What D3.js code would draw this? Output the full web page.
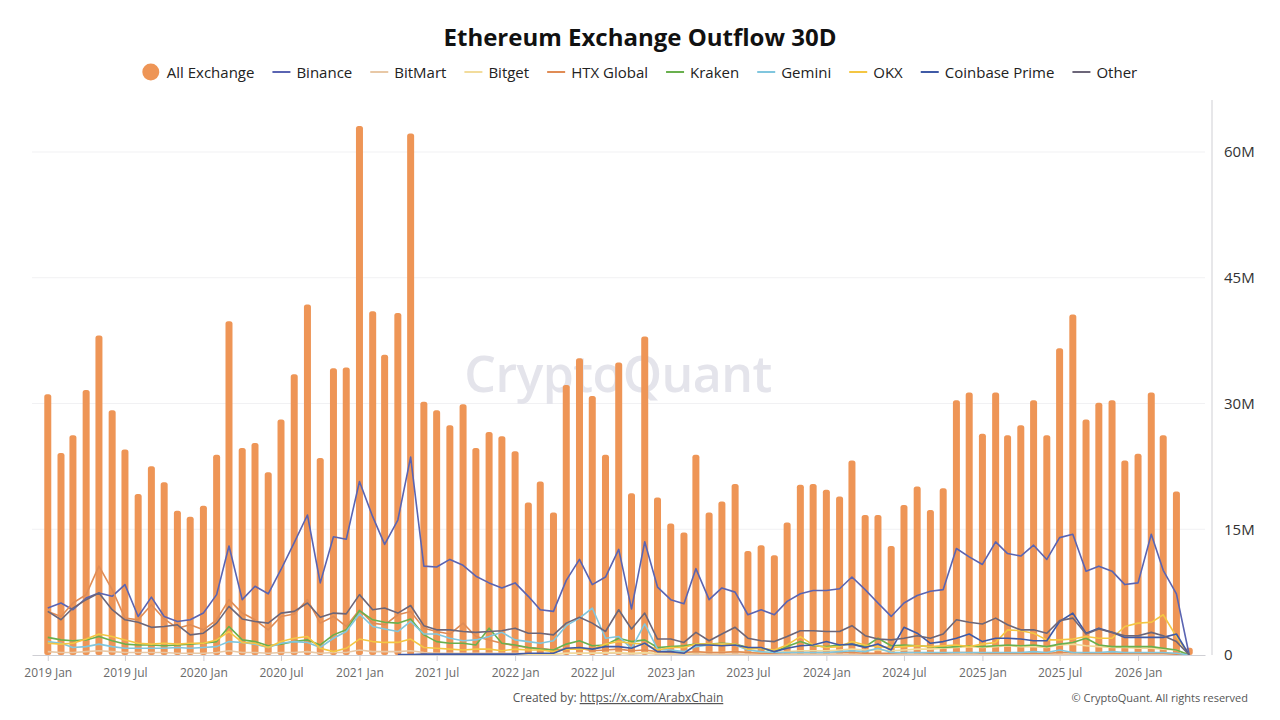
<!DOCTYPE html>
<html>
<head>
<meta charset="utf-8">
<script src="https://cdn.jsdelivr.net/npm/d3@7"></script>
<style>
  body { margin: 0; background: #fff; font-family: "Open Sans", "Noto Sans", sans-serif; }
  svg { display: block; }
</style>
</head>
<body>
<svg id="chart" width="1280" height="720"></svg>
<script>
// monthly buckets, 2019 Jan .. 2026 May
var months = [
  "2019-01","2019-02","2019-03","2019-04","2019-05","2019-06","2019-07","2019-08","2019-09","2019-10","2019-11","2019-12",
  "2020-01","2020-02","2020-03","2020-04","2020-05","2020-06","2020-07","2020-08","2020-09","2020-10","2020-11","2020-12",
  "2021-01","2021-02","2021-03","2021-04","2021-05","2021-06","2021-07","2021-08","2021-09","2021-10","2021-11","2021-12",
  "2022-01","2022-02","2022-03","2022-04","2022-05","2022-06","2022-07","2022-08","2022-09","2022-10","2022-11","2022-12",
  "2023-01","2023-02","2023-03","2023-04","2023-05","2023-06","2023-07","2023-08","2023-09","2023-10","2023-11","2023-12",
  "2024-01","2024-02","2024-03","2024-04","2024-05","2024-06","2024-07","2024-08","2024-09","2024-10","2024-11","2024-12",
  "2025-01","2025-02","2025-03","2025-04","2025-05","2025-06","2025-07","2025-08","2025-09","2025-10","2025-11","2025-12",
  "2026-01","2026-02","2026-03","2026-04","2026-05"
];

// values in millions (ETH)
var allExchange = [
  31.1,24.1,26.2,31.6,38.1,29.2,24.5,19.2,22.5,20.6,17.2,16.5,
  17.8,23.9,39.8,24.7,25.3,21.8,28.1,33.5,41.8,23.5,34.2,34.3,
  63.1,41.0,35.8,40.8,62.2,30.2,29.2,27.4,29.9,24.7,26.6,26.1,
  24.3,18.2,20.7,17.0,32.2,35.4,30.9,23.9,34.9,19.3,38.0,18.8,
  15.7,14.6,23.9,17.0,18.3,20.4,12.4,13.1,11.9,15.8,20.3,20.4,
  19.7,18.9,23.2,16.7,16.7,13.0,17.9,20.1,17.3,19.9,30.4,31.3,
  26.4,31.3,26.2,27.4,30.4,26.2,36.6,40.6,28.1,30.1,30.4,23.2,
  24.0,31.3,26.2,19.5,0.85
];
var binance = [
  5.6,6.2,5.4,6.8,7.4,7.0,8.4,4.6,6.9,4.6,4.0,4.2,
  5.0,7.2,13.0,6.6,8.2,7.3,10.2,13.4,16.7,8.6,14.1,13.8,
  20.7,16.5,13.2,16.1,23.6,10.6,10.5,11.4,10.7,9.4,8.6,8.0,
  8.6,7.0,5.4,5.2,8.9,11.4,8.4,9.3,12.6,5.5,13.5,8.1,
  6.6,6.1,10.3,6.6,8.0,7.5,4.8,5.4,4.8,6.4,7.3,7.7,
  7.7,7.9,9.3,7.8,6.2,4.6,6.2,7.1,7.6,7.8,12.7,11.7,
  10.8,13.5,12.1,11.8,13.1,11.4,14.0,14.4,10.0,10.6,10.0,8.4,
  8.6,14.4,10.1,7.3,0
];
var bitMart = [
  0.4,0.3,0.3,0.4,0.5,0.4,0.3,0.3,0.3,0.3,0.2,0.2,
  0.2,0.3,0.5,0.3,0.3,0.2,0.3,0.3,0.4,0.2,0.3,0.3,
  0.6,0.4,0.4,0.4,0.5,0.3,0.2,0.2,0.2,0.2,0.2,0.2,
  0.2,0.1,0.1,0.1,0.2,0.2,0.2,0.2,0.2,0.1,0.2,0.1,
  0.1,0.1,0.1,0.1,0.1,0.1,0.1,0.1,0.1,0.1,0.1,0.1,
  0.1,0.1,0.1,0.1,0.1,0.1,0.1,0.1,0.1,0.1,0.1,0.1,
  0.1,0.1,0.1,0.1,0.1,0.1,0.1,0.1,0.1,0.1,0.1,0.1,
  0.1,0.1,0.1,0.1,0
];
var bitget = [
  null,null,null,null,null,null,null,null,null,null,null,null,
  null,null,null,null,null,null,null,null,null,null,null,null,
  null,null,null,null,null,null,null,null,null,null,null,null,
  0.1,0.1,0.1,0.1,0.2,0.2,0.2,0.3,0.3,0.2,0.3,0.2,
  0.2,0.2,0.3,0.3,0.3,0.4,0.3,0.3,0.3,0.4,0.5,0.5,
  0.5,0.6,0.7,0.6,0.6,0.5,0.6,0.7,0.7,0.8,0.9,1.0,
  0.9,1.0,1.1,1.0,1.0,0.9,1.2,1.3,1.1,1.0,0.9,0.9,
  0.8,0.8,0.7,0.6,0
];
var htxGlobal = [
  5.2,4.6,6.2,7.2,10.6,7.8,4.4,4.2,6.0,4.3,3.2,3.6,
  3.0,4.2,6.6,5.0,4.2,3.0,4.6,4.9,6.6,3.8,4.6,3.4,
  5.4,3.8,3.6,4.8,5.2,3.2,2.8,2.5,3.8,2.2,1.8,1.4,
  1.1,0.9,0.8,0.6,0.7,0.8,0.5,0.6,0.7,0.5,0.6,0.4,
  0.3,0.3,0.4,0.3,0.3,0.4,0.3,0.2,0.2,0.3,0.3,0.3,
  0.3,0.3,0.3,0.2,0.2,0.2,0.3,0.3,0.2,0.2,0.3,0.3,
  0.2,0.2,0.2,0.2,0.2,0.2,0.3,0.3,0.2,0.2,0.2,0.2,
  0.2,0.2,0.2,0.1,0
];
var kraken = [
  2.1,1.8,1.7,1.8,2.2,1.7,1.3,1.2,1.2,1.1,1.2,1.3,
  1.4,1.6,3.4,1.8,1.6,1.1,1.3,1.6,1.8,1.2,2.4,3.0,
  5.3,4.2,3.9,3.8,4.3,2.4,1.6,1.4,1.4,1.2,3.2,1.4,
  1.2,0.9,0.7,0.6,1.3,1.7,1.1,1.2,2.0,1.6,1.8,0.9,
  1.0,1.1,1.3,1.3,1.4,1.3,0.9,0.8,0.4,1.0,1.6,1.1,
  1.0,1.2,1.3,1.0,2.0,1.1,1.2,1.1,1.0,0.9,1.0,1.1,
  1.0,1.1,1.2,1.1,1.2,1.0,1.3,1.5,2.0,1.2,1.0,1.0,
  1.0,1.0,0.8,0.6,0
];
var gemini = [
  1.6,1.4,0.9,1.0,1.3,1.0,0.8,0.8,0.8,0.8,0.9,0.8,
  0.9,1.0,1.6,1.5,1.3,0.9,1.4,1.6,1.5,0.9,2.0,2.8,
  4.9,3.4,3.1,2.8,4.0,2.5,2.5,2.0,1.7,1.8,2.2,2.7,
  1.8,1.6,1.4,1.7,3.5,4.4,5.6,2.0,2.2,0.8,3.7,0.7,
  0.6,0.4,1.0,1.2,1.3,1.2,0.6,0.4,0.3,0.3,0.3,0.3,
  0.3,0.4,0.5,0.4,0.8,0.3,0.3,0.3,0.3,0.3,0.3,0.3,
  0.3,0.3,0.3,0.3,0.4,0.3,0.6,0.3,0.3,0.3,0.4,0.3,
  0.3,0.3,0.3,0.2,0
];
var okx = [
  1.4,1.3,1.4,1.9,2.5,2.2,1.8,1.4,1.3,1.4,1.3,1.4,
  1.4,1.8,2.8,1.5,1.4,0.9,1.6,2.0,2.2,0.8,0.4,0.8,
  1.9,1.6,1.5,1.5,1.9,0.9,0.8,0.7,0.6,0.7,0.7,0.5,
  0.7,0.6,0.6,0.4,0.7,0.7,0.7,1.3,1.6,1.4,1.3,0.6,
  0.9,0.9,1.3,1.3,1.3,1.3,0.7,0.8,0.6,1.2,2.2,1.2,
  0.9,1.0,1.6,1.2,1.0,0.9,1.0,1.1,1.0,1.1,1.2,1.0,
  1.3,1.5,3.0,2.9,2.6,1.8,1.8,1.9,2.2,2.0,2.0,3.4,
  3.8,3.9,4.8,2.2,0
];
var coinbasePrime = [
  null,null,null,null,null,null,null,null,null,null,null,null,
  null,null,null,null,null,null,null,null,null,null,null,null,
  null,null,null,0.05,0.05,0.1,0.1,0.1,0.1,0.1,0.1,0.1,
  0.1,0.2,0.2,0.2,0.8,0.9,0.7,1.0,1.0,0.8,1.4,0.4,
  0.4,0.2,1.2,1.2,1.1,1.2,0.9,0.9,0.4,0.8,1.1,1.2,
  1.6,1.2,1.3,0.9,1.3,0.6,3.3,2.6,1.4,1.6,2.0,2.5,
  1.6,2.0,2.0,1.9,1.7,1.7,4.0,5.0,2.6,3.2,2.7,2.1,
  2.1,2.1,2.1,2.5,0
];
var other = [
  5.2,4.2,5.6,6.6,7.4,5.4,4.2,3.9,3.3,3.4,3.6,2.4,
  2.6,3.8,5.8,4.3,4.0,3.8,5.0,5.2,6.2,4.5,5.0,4.9,
  7.2,5.4,5.6,5.0,5.9,3.5,3.0,3.0,2.8,2.7,2.8,2.9,
  3.2,2.6,2.6,2.4,3.8,4.5,3.8,2.8,5.4,3.1,5.0,1.9,
  1.9,1.5,2.7,1.7,2.5,3.3,2.0,1.7,1.6,2.2,2.9,2.9,
  2.8,2.8,3.5,2.3,1.9,1.8,2.0,2.3,2.0,2.5,4.2,3.9,
  3.7,4.4,3.6,3.0,3.0,2.6,4.1,4.4,2.5,3.1,2.7,2.3,
  2.3,2.7,2.3,1.6,0
];

var lineNames = ["Binance", "BitMart", "Bitget", "HTX Global", "Kraken", "Gemini", "OKX", "Coinbase Prime", "Other"];
var lineValues = [binance, bitMart, bitget, htxGlobal, kraken, gemini, okx, coinbasePrime, other];
var lineColors = ["#5a64b2", "#e8c8a6", "#f2dc9c", "#e08c55", "#69b04e", "#80c6de", "#f4c643", "#3f5aa6", "#6c6679"];
var barColor = "#ee9556";
var yTicks = [0, 15, 30, 45, 60];

var svg = d3.select("#chart");
var parseMonth = d3.utcParse("%Y-%m");
var dates = months.map(parseMonth);

// plot box (window.top is read-only, so no "top" name here)
var plotLeft = 32, plotRight = 1205, plotTop = 100, plotBottom = 655;

var x = d3.scaleUtc()
    .domain([d3.utcDay.offset(dates[0], -37), d3.utcDay.offset(dates[dates.length - 1], 37)])
    .range([plotLeft, plotRight]);
var y = d3.scaleLinear().domain([0, 66.2]).range([plotBottom, plotTop]);

// title
svg.append("text")
    .attr("x", 640).attr("y", 46)
    .attr("text-anchor", "middle")
    .attr("font-size", 24).attr("font-weight", "bold").attr("fill", "#111")
    .text("Ethereum Exchange Outflow 30D");

// grid
svg.append("g").selectAll("line")
    .data(yTicks.filter(d => d > 0))
    .enter().append("line")
    .attr("x1", plotLeft).attr("x2", plotRight)
    .attr("y1", d => y(d)).attr("y2", d => y(d))
    .attr("stroke", "#f1f1f3");

// watermark
svg.append("text")
    .attr("x", 618).attr("y", 392)
    .attr("text-anchor", "middle")
    .attr("font-size", 50).attr("font-weight", 600)
    .attr("fill", "#e4e4eb").attr("letter-spacing", -0.5)
    .text("CryptoQuant");

// bars
svg.append("g").selectAll("rect")
    .data(allExchange)
    .enter().append("rect")
    .attr("x", (d, i) => x(dates[i]) - 3.5)
    .attr("width", 7)
    .attr("y", d => y(d))
    .attr("height", d => plotBottom - y(d))
    .attr("rx", 2.5)
    .attr("fill", barColor);

// lines
var line = d3.line()
    .defined(d => d.v != null)
    .x(d => x(d.date))
    .y(d => y(d.v));

lineValues.forEach((vals, k) => {
    svg.append("path")
        .datum(vals.map((v, i) => ({ date: dates[i], v: v })))
        .attr("d", line)
        .attr("fill", "none")
        .attr("stroke", lineColors[k])
        .attr("stroke-width", 1.6)
        .attr("stroke-linejoin", "round");
});

// x axis
var xTicks = dates.filter(d => (d.getUTCMonth() === 0 || d.getUTCMonth() === 6) && d <= parseMonth("2026-01"));
var xAxis = svg.append("g")
    .attr("transform", `translate(0,${plotBottom})`)
    .call(d3.axisBottom(x).tickValues(xTicks).tickFormat(d3.utcFormat("%Y %b")).tickSize(6).tickSizeOuter(0));
xAxis.select(".domain").attr("stroke", "#cfcfd4");
xAxis.selectAll(".tick line").attr("stroke", "#cfcfd4");
xAxis.selectAll(".tick text").attr("fill", "#6a6a6a").attr("font-size", 12).attr("dy", "1.05em")
    .attr("font-family", "\"Open Sans\", sans-serif");

// y axis on the right
var yAxis = svg.append("g")
    .attr("transform", `translate(1212,0)`)
    .call(d3.axisRight(y).tickValues(yTicks).tickFormat(d => d ? d + "M" : "0").tickSize(0).tickPadding(12));
yAxis.select(".domain").attr("stroke", "#cfcfd4").attr("d", `M0,${plotTop}V${plotBottom}`);
yAxis.selectAll(".tick text").attr("fill", "#333").attr("font-size", 15)
    .attr("font-family", "\"Open Sans\", sans-serif");

// legend
var legendItems = [{ name: "All Exchange", color: barColor, dot: true }]
    .concat(lineNames.map((n, i) => ({ name: n, color: lineColors[i], dot: false })));
var legend = svg.append("g").attr("font-size", 15).attr("fill", "#222");
var gap = 18;
var lx = 0;
legendItems.forEach(it => {
    var g = legend.append("g").attr("transform", `translate(${lx},0)`);
    if (it.dot) {
        g.append("circle").attr("cx", 8).attr("cy", 0).attr("r", 8.5).attr("fill", it.color);
    } else {
        g.append("line").attr("x1", 0).attr("x2", 18).attr("y1", 0).attr("y2", 0)
            .attr("stroke", it.color).attr("stroke-width", 2);
    }
    var t = g.append("text").attr("x", 24).attr("y", 5.5).attr("fill", "#222").text(it.name);
    lx += 24 + t.node().getComputedTextLength() + gap;
});
legend.attr("transform", `translate(${(1280 - (lx - gap)) / 2},72)`);

// footer
var foot = svg.append("text")
    .attr("x", 618).attr("y", 702)
    .attr("text-anchor", "middle")
    .attr("font-size", 12).attr("fill", "#555");
foot.append("tspan").text("Created by: ");
foot.append("tspan").attr("text-decoration", "underline").text("https://x.com/ArabxChain");

svg.append("text")
    .attr("x", 1248).attr("y", 702)
    .attr("text-anchor", "end")
    .attr("font-size", 11).attr("fill", "#555")
    .text("\u00A9 CryptoQuant. All rights reserved");
</script>
</body>
</html>
